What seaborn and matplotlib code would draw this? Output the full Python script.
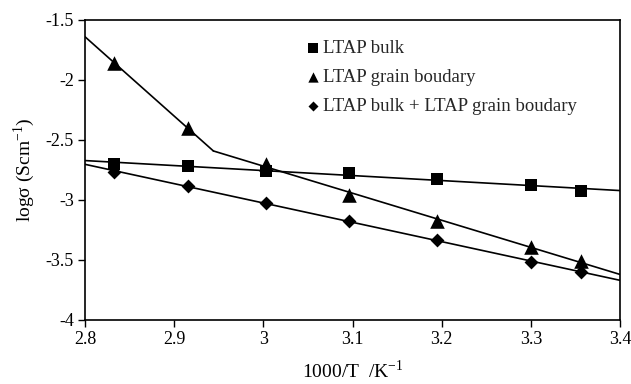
import numpy as np
import pandas as pd
import matplotlib
matplotlib.use("Agg")
import matplotlib.pyplot as plt
import seaborn as sns

# ---- data ----
inv_T = [2.833, 2.915, 3.003, 3.096, 3.195, 3.300, 3.356]
bulk = [-2.700, -2.717, -2.758, -2.775, -2.825, -2.875, -2.925]
grain = [-1.858, -2.400, -2.700, -2.958, -3.175, -3.392, -3.508]
total = [-2.767, -2.883, -3.025, -3.175, -3.333, -3.517, -3.600]
series_names = ["LTAP bulk", "LTAP grain boudary", "LTAP bulk + LTAP grain boudary"]
x_ticks = [2.8, 2.9, 3.0, 3.1, 3.2, 3.3, 3.4]
x_tick_labels = ["2.8", "2.9", "3", "3.1", "3.2", "3.3", "3.4"]
y_ticks = [-4, -3.5, -3, -2.5, -2, -1.5]
y_tick_labels = ["-4", "-3.5", "-3", "-2.5", "-2", "-1.5"]

sns.set_theme(style="white")
plt.rcParams["font.family"] = ["Liberation Serif", "DejaVu Serif"]
plt.rcParams["mathtext.fontset"] = "custom"
plt.rcParams["mathtext.rm"] = "Liberation Serif"

df = pd.DataFrame({
    "x": inv_T * 3,
    "y": bulk + grain + total,
    "series": [series_names[0]] * 7 + [series_names[1]] * 7 + [series_names[2]] * 7,
})

fig = plt.figure(figsize=(6.31, 3.84), dpi=100)
ax = fig.add_axes([0.1347, 0.1667, 0.8479, 0.7813])

xmin, xmax = 2.8, 3.4
x = np.array(inv_T)

# trend lines
xx = np.linspace(xmin, xmax, 50)
pb = np.polyfit(x, bulk, 1)
ax.plot(xx, np.polyval(pb, xx), color="black", lw=1.2, zorder=2)
pt = np.polyfit(x, total, 1)
ax.plot(xx, np.polyval(pt, xx), color="black", lw=1.2, zorder=2)
g = np.array(grain)
ph = np.polyfit(x[:2], g[:2], 1)
pl = np.polyfit(x[2:], g[2:], 1)
xk = (pl[1] - ph[1]) / (ph[0] - pl[0])
xa = np.linspace(xmin, xk, 20)
xb = np.linspace(xk, xmax, 20)
ax.plot(xa, np.polyval(ph, xa), color="black", lw=1.2, zorder=2)
ax.plot(xb, np.polyval(pl, xb), color="black", lw=1.2, zorder=2)

markers = {series_names[0]: "s", series_names[1]: "^", series_names[2]: "D"}
sizes = {series_names[0]: 80, series_names[1]: 110, series_names[2]: 50}
leg_sizes = {series_names[0]: 42, series_names[1]: 55, series_names[2]: 26}
for name in series_names:
    sns.scatterplot(
        data=df[df["series"] == name], x="x", y="y",
        marker=markers[name], color="black", s=sizes[name],
        edgecolor="black", linewidth=0, ax=ax, zorder=3, label=name,
    )

ax.set_xlim(xmin, xmax)
ax.set_ylim(-4, -1.5)
ax.set_xticks(x_ticks)
ax.set_xticklabels(x_tick_labels)
ax.set_yticks(y_ticks)
ax.set_yticklabels(y_tick_labels)
ax.tick_params(axis="both", which="major", direction="out", length=5, width=1,
               color="black", labelsize=13, labelcolor="black", pad=3,
               bottom=True, left=True, top=False, right=False)
for s in ax.spines.values():
    s.set_color("black")
    s.set_linewidth(1.2)

ax.set_xlabel("1000/T  /K$^{\\mathrm{-1}}$", fontsize=14, color="black", labelpad=8)
ax.set_ylabel("logσ (Scm$^{\\mathrm{-1}}$)", fontsize=14, color="black", labelpad=6)

handles, labels = ax.get_legend_handles_labels()
leg = ax.legend(handles, labels, loc="upper left", bbox_to_anchor=(0.395, 0.96),
                frameon=False, fontsize=13.5, handletextpad=0.0, handlelength=1.0,
                labelspacing=0.65, borderaxespad=0)
for h, name in zip(leg.legend_handles, labels):
    h.set_sizes([leg_sizes[name]])

fig.savefig("out.png", dpi=100)
